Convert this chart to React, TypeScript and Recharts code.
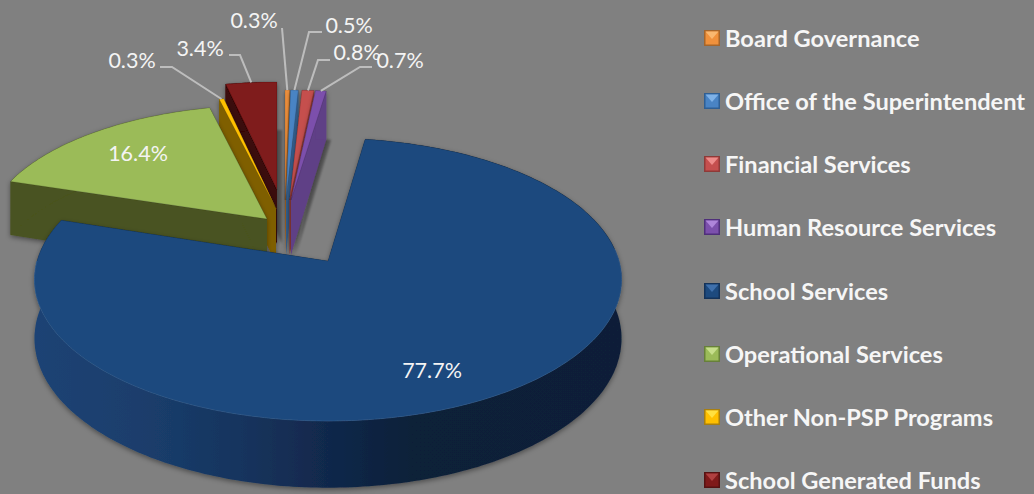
import React from 'react';
import { PieChart, Pie, Legend } from 'recharts';

const categories = [
  'Board Governance',
  'Office of the Superintendent',
  'Financial Services',
  'Human Resource Services',
  'School Services',
  'Operational Services',
  'Other Non-PSP Programs',
  'School Generated Funds',
];
const shares = [0.3, 0.5, 0.8, 0.7, 77.7, 16.4, 0.3, 3.4];

const rows = categories.map((name, i) => ({ name, value: shares[i] }));

// back to front, this pie has no depth sorting of its own
const drawOrder = [7, 6, 5, 0, 1, 2, 3, 4];

const topColors = ['#F0913C', '#4A84C4', '#C54F4E', '#7C50AC', '#1D4A7E', '#9BBB59', '#FFC000', '#7F1A1A'];
const wallColors = ['#B06A28', '#35608F', '#8F3A38', '#5F3F86', 'url(#schoolWall)', '#495320', '#7F5F00', '#3A0707'];
const legendEdge = ['#A5652A', '#2F5F94', '#8E3A38', '#4F2F7A', '#14335A', '#67803A', '#A87F10', '#561212'];
const legendLight = ['#F9B870', '#7FB2E8', '#EE8C8A', '#AE85DA', '#3F70AC', '#C6DE8C', '#FFE040', '#B04040'];

// how far each slice is pulled out: screen px from the pie centre, and depth in radius units
const explodeX = [-43, -42, -38.4, -37, 0, -61, -52, -51];
const explodeV = [0.466, 0.466, 0.466, 0.466, 0, 0.315, 0.4, 0.55];

// text centre and leader bend of each label
const labelPos: { x: number; y: number; from?: number[]; elbow?: number[] }[] = [
  { x: 254, y: 20, from: [282, 28] },
  { x: 349, y: 25, from: [322, 32], elbow: [309, 32] },
  { x: 357, y: 52, from: [330, 60], elbow: [318, 60] },
  { x: 400, y: 60, from: [372, 67], elbow: [360, 67] },
  { x: 432, y: 370 },
  { x: 138, y: 153 },
  { x: 132, y: 60, from: [160, 67], elbow: [172, 67] },
  { x: 200, y: 48, from: [229, 55], elbow: [240, 55] },
];

const WIDTH = 1034;
const HEIGHT = 494;
const CX = 328;
const CY = 261;
const RX = 291;
const RY = 139;
const PERSPECTIVE = 0.131;
const DEPTH = 58;
const FONT = 'Lato, sans-serif';

// theta is clockwise from the top, r in radius units
function project(i: number, theta: number, r: number, floor = false) {
  const a = (theta * Math.PI) / 180;
  const u = r * Math.sin(a);
  const v = explodeV[i] + r * Math.cos(a);
  const w = 1 + PERSPECTIVE * v;
  return {
    x: CX + explodeX[i] + (RX * u) / w,
    y: CY - (RY * v) / w + (floor ? DEPTH / w : 0),
  };
}

const toPath = (pts: { x: number; y: number }[]) =>
  'M' + pts.map((p) => `${p.x.toFixed(1)},${p.y.toFixed(1)}`).join('L') + 'Z';

function arc(i: number, from: number, to: number, floor = false) {
  const n = Math.max(2, Math.ceil(to - from));
  const pts = [];
  for (let s = 0; s <= n; s++) pts.push(project(i, from + ((to - from) * s) / n, 1, floor));
  return pts;
}

function Slice3D({ i, startAngle, endAngle }: { i: number; startAngle: number; endAngle: number }) {
  const from = 90 - startAngle;
  const to = 90 - endAngle;
  const apex = project(i, 0, 0);
  const apexLow = project(i, 0, 0, true);
  const top = arc(i, from, to);
  const low = arc(i, from, to, true);
  const cutFill = i === 4 ? '#14335A' : wallColors[i];

  const cut = (th: number) =>
    toPath([apex, project(i, th, 1), project(i, th, 1, true), apexLow]);

  return (
    <g>
      {explodeV[i] > 0 && (
        <path d={toPath([apexLow, ...low])} transform="translate(5,0)" fill="#000" fillOpacity={0.3} filter="url(#groundBlur)" />
      )}
      <g filter="url(#softShadow)">
        <path d={cut(from)} fill={cutFill} />
        <path d={cut(to)} fill={cutFill} />
        <path d={toPath([...top, ...low.slice().reverse()])} fill={wallColors[i]} />
        <path d={toPath([apex, ...top])} fill={topColors[i]} stroke="rgba(0,0,0,0.22)" strokeWidth={0.6} />
        {i === 4 && (
          <path
            d={'M' + arc(i, 85, 270).map((p) => `${p.x.toFixed(1)},${p.y.toFixed(1)}`).join('L')}
            fill="none"
            stroke="#3A6AA3"
            strokeOpacity={0.7}
            strokeWidth={0.8}
          />
        )}
      </g>
    </g>
  );
}

function SliceLabel(props: any) {
  const i = categories.indexOf(props.name);
  const pos = labelPos[i];
  const mid = 90 - (props.startAngle + props.endAngle) / 2;
  const end = project(i, mid, 1);
  const leader = pos.from
    ? [pos.from, ...(pos.elbow ? [pos.elbow] : []), [end.x, end.y]].map((p) => p.join(',')).join(' ')
    : null;
  return (
    <g>
      {leader && <polyline points={leader} fill="none" stroke="#BDBDBD" strokeWidth={2} />}
      <text
        x={pos.x}
        y={pos.y}
        textAnchor="middle"
        dominantBaseline="central"
        fill="#F4F4F4"
        fontFamily={FONT}
        fontSize={21.5}
      >
        {shares[i].toFixed(1)}%
      </text>
    </g>
  );
}

function LegendList() {
  return (
    <div style={{ fontFamily: FONT, fontWeight: 700, fontSize: 23.6, color: '#F6F6F6' }}>
      {categories.map((name, i) => (
        <div key={name} style={{ height: 63.15, display: 'flex', alignItems: 'center', whiteSpace: 'nowrap' }}>
          <svg width={16} height={16} style={{ marginRight: 5, flex: 'none' }}>
            <rect x={0} y={0} width={16} height={16} fill={legendEdge[i]} />
            <rect x={1.5} y={1.5} width={13} height={13} fill={topColors[i]} />
            <path d="M1.5,1.5L14.5,1.5L8,9Z" fill={legendLight[i]} />
          </svg>
          {name}
        </div>
      ))}
    </div>
  );
}

export default function App() {
  return (
    <div style={{ width: WIDTH, height: HEIGHT, overflow: 'hidden' }}>
      <style>{'body{margin:0;background:#808080}'}</style>
      <PieChart width={WIDTH} height={HEIGHT} margin={{ top: 0, right: 0, bottom: 0, left: 0 }}>
        <defs>
          <linearGradient id="schoolWall" gradientUnits="userSpaceOnUse" x1={35} y1={0} x2={622} y2={0}>
            <stop offset="0" stopColor="#1B4374" />
            <stop offset="0.2" stopColor="#1A3D6B" />
            <stop offset="0.35" stopColor="#16345E" />
            <stop offset="0.5" stopColor="#11284B" />
            <stop offset="0.64" stopColor="#0E2039" />
            <stop offset="1" stopColor="#0D1F38" />
          </linearGradient>
          <filter id="softShadow" filterUnits="userSpaceOnUse" x={0} y={0} width={WIDTH} height={HEIGHT}>
            <feDropShadow dx={0} dy={2} stdDeviation={2.5} floodColor="#000" floodOpacity={0.4} />
          </filter>
          <filter id="groundBlur" filterUnits="userSpaceOnUse" x={0} y={0} width={WIDTH} height={HEIGHT}>
            <feGaussianBlur stdDeviation={1.2} />
          </filter>
        </defs>
        {drawOrder.map((i) => (
          <Pie
            key={categories[i]}
            data={rows}
            dataKey="value"
            nameKey="name"
            cx={CX}
            cy={CY}
            outerRadius={RX}
            startAngle={90}
            endAngle={-270}
            stroke="none"
            isAnimationActive={false}
            shape={(p: any) =>
              p.name === categories[i] ? (
                <Slice3D i={i} startAngle={p.startAngle} endAngle={p.endAngle} />
              ) : (
                <g />
              )
            }
          />
        ))}
        <Pie
          data={rows}
          dataKey="value"
          nameKey="name"
          cx={CX}
          cy={CY}
          outerRadius={RX}
          startAngle={90}
          endAngle={-270}
          isAnimationActive={false}
          shape={() => <g />}
          labelLine={false}
          label={(p: any) => <SliceLabel {...p} />}
        />
        <Legend
          layout="vertical"
          content={() => <LegendList />}
          wrapperStyle={{ position: 'absolute', left: 704, top: 6.5, right: 'auto', bottom: 'auto', width: 330 }}
        />
      </PieChart>
    </div>
  );
}
